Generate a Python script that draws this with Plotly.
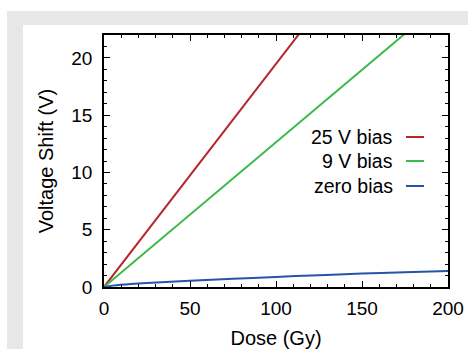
import plotly.graph_objects as go

# Data
dose_red = [0, 50, 100, 115]
shift_red = [0, 9.75, 19.5, 22.4]

dose_green = [0, 50, 100, 150, 180]
shift_green = [0, 6.32, 12.64, 18.96, 22.75]

dose_blue = [0, 5, 10, 25, 50, 75, 100, 125, 150, 175, 200]
shift_blue = [0, 0.12, 0.2, 0.35, 0.55, 0.72, 0.88, 1.03, 1.17, 1.29, 1.40]

series_names = ["25 V bias", "9 V bias", "zero bias"]
series_colors = ["#b5272d", "#3dba4b", "#2455a8"]

x_ticks = [0, 50, 100, 150, 200]
y_ticks = [0, 5, 10, 15, 20]

FONT = "Liberation Sans, Arial, sans-serif"

fig = go.Figure()
for xs, ys, name, col in zip([dose_red, dose_green, dose_blue],
                             [shift_red, shift_green, shift_blue],
                             series_names, series_colors):
    fig.add_trace(go.Scatter(x=xs, y=ys, mode="lines", name=name,
                             line=dict(color=col, width=2), showlegend=False,
                             line_shape="spline" if name == "zero bias" else "linear"))

# plot area in pixels: x 104..448, y 35..287
L, R, T, B = 104, 448, 35, 287
W, H = 468, 349
def px(x):
    return (x - L) / (R - L)
def py(y):
    return (B - y) / (B - T)

shapes = [
    dict(type="rect", xref="paper", yref="paper", x0=px(7), x1=px(W + 5), y0=py(11), y1=py(H + 5),
         fillcolor="#e6e7e8", line=dict(width=0), layer="below"),
    dict(type="rect", xref="paper", yref="paper", x0=px(23), x1=px(W + 5), y0=py(25), y1=py(H + 5),
         fillcolor="white", line=dict(width=0), layer="below"),
]
annotations = []
leg_y = [137, 161, 186]
for name, col, yy in zip(series_names, series_colors, leg_y):
    annotations.append(dict(xref="paper", yref="paper", x=px(395), y=py(yy), text=name,
                            showarrow=False, xanchor="right", yanchor="middle",
                            font=dict(family=FONT, size=19.5, color="black")))
    shapes.append(dict(type="line", xref="paper", yref="paper", x0=px(406), x1=px(424),
                       y0=py(yy), y1=py(yy), line=dict(color=col, width=2)))

axis_common = dict(showline=True, linecolor="black", linewidth=1.5, mirror="ticks",
                   ticks="inside", ticklen=6, tickwidth=1.2, tickcolor="black",
                   showgrid=False, zeroline=False,
                   tickfont=dict(family=FONT, size=19, color="black"))

fig.update_layout(
    width=W, height=H,
    margin=dict(l=L, r=W - R, t=T, b=H - B, autoexpand=False),
    paper_bgcolor="white", plot_bgcolor="rgba(0,0,0,0)",
    shapes=shapes, annotations=annotations,
    xaxis=dict(range=[0, 200], tickvals=x_ticks, ticktext=[str(v) for v in x_ticks],
               minor=dict(ticks="inside", ticklen=3.5, dtick=10, tickcolor="black", tickwidth=1),
               ticklabelstandoff=3,
               title=dict(text="Dose (Gy)", font=dict(family=FONT, size=20, color="black"), standoff=13),
               **axis_common),
    yaxis=dict(range=[0, 22], tickvals=y_ticks, ticktext=[str(v) for v in y_ticks],
               minor=dict(ticks="inside", ticklen=3.5, dtick=1, tickcolor="black", tickwidth=1),
               ticklabelstandoff=6,
               title=dict(text="Voltage Shift (V)", font=dict(family=FONT, size=20, color="black"), standoff=12),
               **axis_common),
)
fig.update_xaxes(automargin=False)
fig.update_yaxes(automargin=False)
fig.write_html("out.html", post_script="document.body.style.margin='0';",
               config={"displayModeBar": False})
